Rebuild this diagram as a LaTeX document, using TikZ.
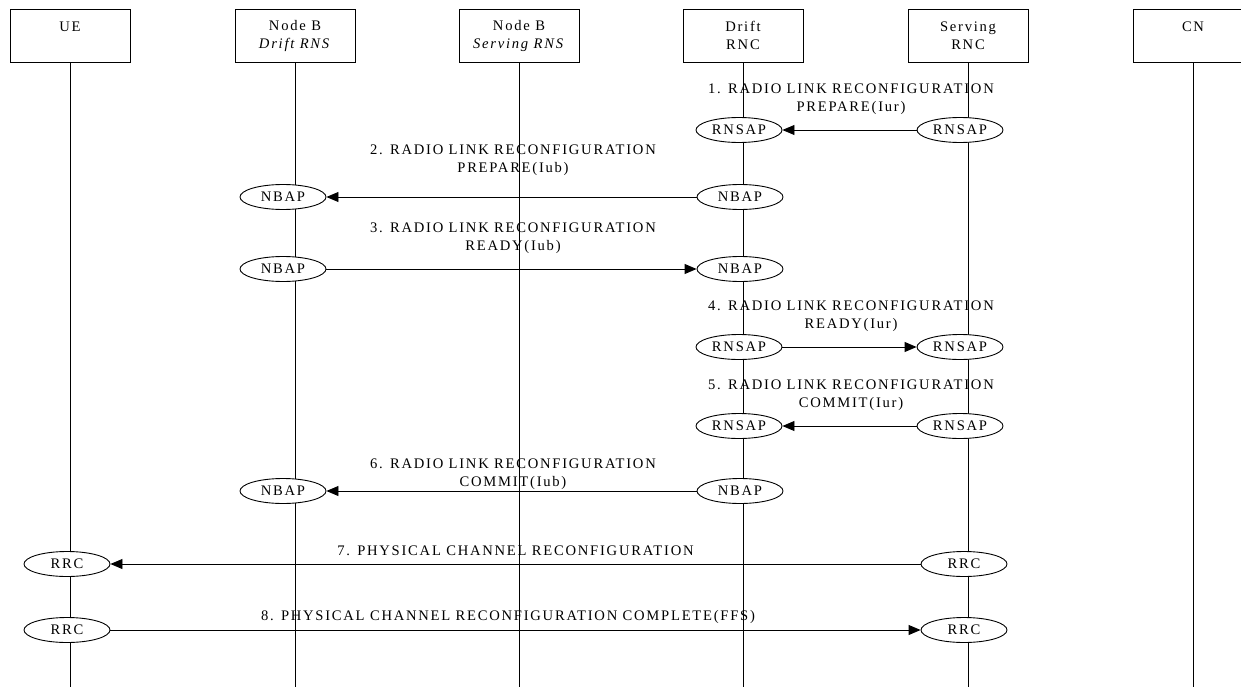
\documentclass[tikz,border=0pt]{standalone}
\usepackage{fontspec}
\setmainfont{Liberation Serif}[LetterSpace=12]
\usetikzlibrary{shapes.geometric,arrows.meta}
\begin{document}
\begin{tikzpicture}[x=1pt,y=-1pt,
  font=\fontsize{14.6}{18}\selectfont,
  box/.style={draw, rectangle, minimum width=120pt, minimum height=53pt, align=center, inner sep=0pt, line width=0.9pt},
  proto/.style={draw, ellipse, fill=white, minimum width=86pt, minimum height=25pt, inner sep=0pt, line width=0.9pt},
  msg/.style={-{Triangle[length=12pt,width=10pt]}, line width=0.9pt},
  life/.style={line width=0.9pt},
  lbl/.style={align=center, inner sep=0pt}]
\useasboundingbox (0,0) rectangle (1241,687);
% entity boxes
\node[box] (bUE)  at (70,35.5)   {UE\\\mbox{}};
\node[box] (bNBD) at (295,35.5)  {Node B\\\textit{Drift RNS}};
\node[box] (bNBS) at (519,35.5)  {Node B\\\textit{Serving RNS}};
\node[box] (bDR)  at (743,35.5)  {Drift\\RNC};
\node[box] (bSR)  at (968,35.5)  {Serving\\RNC};
\node[box] (bCN)  at (1193,35.5) {CN\\\mbox{}};
% lifeline ends
\coordinate (eUE)  at (70,687);
\coordinate (eNBD) at (295,687);
\coordinate (eNBS) at (519,687);
\coordinate (eDR)  at (743,687);
\coordinate (eSR)  at (968,687);
\coordinate (eCN)  at (1193,687);
\draw[life] (bUE.south) -- (eUE);
\draw[life] (bNBD.south) -- (eNBD);
\draw[life] (bNBS.south) -- (eNBS);
\draw[life] (bDR.south) -- (eDR);
\draw[life] (bSR.south) -- (eSR);
\draw[life] (bCN.south) -- (eCN);
% protocol ellipses
\node[proto] (r1d) at (739,130) {RNSAP};
\node[proto] (r1s) at (960,130) {RNSAP};
\node[proto] (n2b) at (283,197) {NBAP};
\node[proto] (n2d) at (740,197) {NBAP};
\node[proto] (n3b) at (283,269) {NBAP};
\node[proto] (n3d) at (740,269) {NBAP};
\node[proto] (r4d) at (739,347) {RNSAP};
\node[proto] (r4s) at (960,347) {RNSAP};
\node[proto] (r5d) at (739,426) {RNSAP};
\node[proto] (r5s) at (960,426) {RNSAP};
\node[proto] (n6b) at (283,491) {NBAP};
\node[proto] (n6d) at (740,491) {NBAP};
\node[proto] (c7u) at (67,564)  {RRC};
\node[proto] (c7s) at (964,564) {RRC};
\node[proto] (c8u) at (67,630)  {RRC};
\node[proto] (c8s) at (964,630) {RRC};
% messages
\draw[msg] (r1s) -- (r1d);
\draw[msg] (n2d) -- (n2b);
\draw[msg] (n3b) -- (n3d);
\draw[msg] (r4d) -- (r4s);
\draw[msg] (r5s) -- (r5d);
\draw[msg] (n6d) -- (n6b);
\draw[msg] (c7s) -- (c7u);
\draw[msg] (c8u) -- (c8s);
% labels
\node[lbl] (l1) at (851,99.5) {1. RADIO LINK RECONFIGURATION\\PREPARE(Iur)};
\node[lbl] (l2) at (513,160.5) {2. RADIO LINK RECONFIGURATION\\PREPARE(Iub)};
\node[lbl] (l3) at (513,238.5) {3. RADIO LINK RECONFIGURATION\\READY(Iub)};
\node[lbl] (l4) at (851,316.5) {4. RADIO LINK RECONFIGURATION\\READY(Iur)};
\node[lbl] (l5) at (851,395.5) {5. RADIO LINK RECONFIGURATION\\COMMIT(Iur)};
\node[lbl] (l6) at (513,474.5) {6. RADIO LINK RECONFIGURATION\\COMMIT(Iub)};
\node[lbl] (l7) at (515.5,551) {7. PHYSICAL CHANNEL RECONFIGURATION};
\node[lbl] (l8) at (508,617) {8. PHYSICAL CHANNEL RECONFIGURATION COMPLETE(FFS)};
\end{tikzpicture}
\end{document}
